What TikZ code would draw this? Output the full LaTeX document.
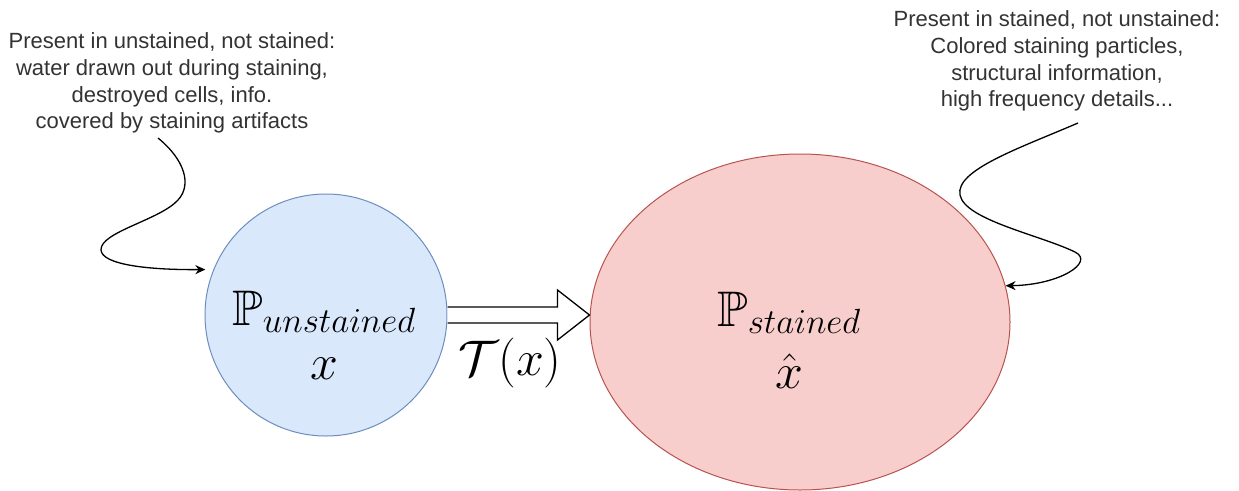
\documentclass[tikz,border=0pt]{standalone}
\usepackage{fix-cm}
\usepackage{amsmath,amssymb}
\usepackage{fontspec}
\setsansfont{Liberation Sans}
\usepackage{tikz}
\usetikzlibrary{arrows.meta,positioning,calc,shapes.geometric}

\definecolor{blfill}{HTML}{DAE8FC}
\definecolor{blline}{HTML}{6C8EBF}
\definecolor{rdfill}{HTML}{F8CECC}
\definecolor{rdline}{HTML}{B85450}

\begin{document}
\begin{tikzpicture}[
  x=1pt, y=-1pt,
  >={Stealth[length=10pt,width=9pt]},
  ublob/.style={
    circle, draw=blline, fill=blfill, line width=1pt,
    minimum size=242pt, inner sep=0pt
  },
  sblob/.style={
    ellipse, draw=rdline, fill=rdfill, line width=1pt,
    minimum width=420pt, minimum height=336pt, inner sep=0pt
  },
  note/.style={
    font=\sffamily\fontsize{22}{26.7}\selectfont, text=black!80,
    align=center, inner sep=0pt
  },
  mlbl/.style={font=\fontsize{50}{54}\selectfont, align=center, inner sep=0pt},
  curl/.style={->, line width=1.3pt},
  flex/.style={draw=black, fill=white, line width=1.3pt, line join=miter}
]

\useasboundingbox[fill=white] (0,0) rectangle (1239,490);

\node[ublob] (U) at (326,315) {};
\node[sblob] (S) at (800,322) {};

\node[mlbl] (Ul) at (324,335) {$\mathbb{P}_{unstained}$\\$x$};
\node[mlbl] (Sl) at (789,340) {$\mathbb{P}_{stained}$\\[8pt]$\hat{x}$};

\coordinate (tip) at (S.west |- U.east);
\draw[flex]
  ($(U.east)+(0,-8)$) -- ($(tip)+(-32,-8)$) -- ($(tip)+(-32,-25)$) -- (tip)
  -- ($(tip)+(-32,25)$) -- ($(tip)+(-32,8)$) -- ($(U.east)+(0,8)$);
\node[mlbl] (T) at (510,363) {$\mathcal{T}(x)$};

\node[note] (Ln) at (172,83)
  {Present in unstained, not stained:\\water drawn out during staining,\\destroyed cells, info.\\covered by staining artifacts};
\node[note] (Rn) at (1057,61)
  {Present in stained, not unstained:\\Colored staining particles,\\structural information,\\high frequency details...};

\coordinate (Lfrom) at (158,138);
\coordinate (Rfrom) at (1078,123);

\draw[curl, shorten >=8pt]
  (Lfrom) .. controls (185,160) and (192,185) .. (178,200)
  .. controls (160,220) and (100,232) .. (101,250)
  .. controls (102,265) and (150,270) .. (U.158);

\draw[curl]
  (Rfrom) .. controls (1020,148) and (955,170) .. (960,195)
  .. controls (965,220) and (1040,235) .. (1075,252)
  .. controls (1095,262) and (1060,285) .. (S.10);

\end{tikzpicture}
\end{document}
